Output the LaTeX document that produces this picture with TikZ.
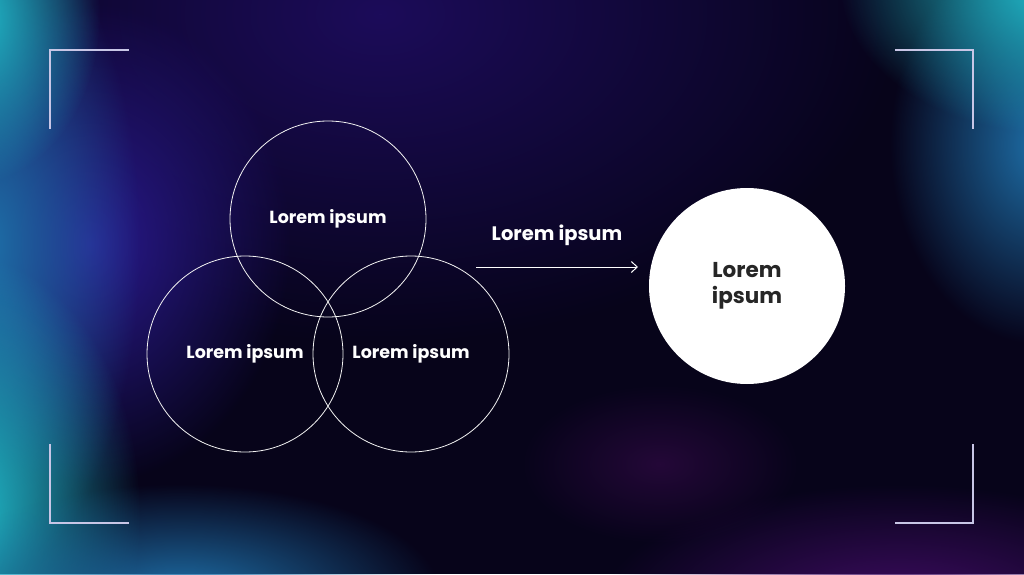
\documentclass[tikz,border=0pt]{standalone}
\usepackage{fontspec}
\setmainfont{Poppins}
\usetikzlibrary{fadings,arrows.meta}
\tikzfading[name=softfade, inner color=transparent!0, outer color=transparent!100]
\definecolor{bgbase}{HTML}{07041A}
\definecolor{indigo}{HTML}{1C0C5A}
\definecolor{cyanglow}{HTML}{22C4D2}
\definecolor{tealblue}{HTML}{1E6FA8}
\definecolor{violetblue}{HTML}{2A1A90}
\definecolor{magglow}{HTML}{3E0C62}
\definecolor{magdim}{HTML}{240838}
\definecolor{bracket}{HTML}{C8C6E6}
\tikzset{
  blob/.style={fill=#1, path fading=softfade},
  ring/.style={circle, draw=white!90!gray, line width=0.8pt, minimum size=196pt, inner sep=0pt, text=white, font=\bfseries\fontsize{17.5}{20}\selectfont},
  bigdot/.style={circle, fill=white, minimum size=196pt, inner sep=0pt, text=black!85, align=center, font=\bfseries\fontsize{21.5}{26}\selectfont},
  brk/.style={draw=bracket, line width=1.1pt},
  lbl/.style={text=white, font=\bfseries\fontsize{19.5}{23}\selectfont}
}
\begin{document}
\begin{tikzpicture}[x=1pt,y=1pt]
\useasboundingbox (0,0) rectangle (1024,574);
\fill[bgbase] (0,0) rectangle (1024,574);
% background glows
\fill[blob=indigo] (380,560) ellipse (520 and 330);
\fill[blob=violetblue] (90,330) ellipse (200 and 240);
\fill[blob=tealblue] (-10,330) ellipse (150 and 330);
\fill[blob=cyanglow] (-40,60) ellipse (180 and 260);
\fill[blob=cyanglow] (-30,560) ellipse (130 and 170);
\fill[blob=tealblue] (180,-20) ellipse (260 and 110);
\fill[blob=tealblue] (1040,430) ellipse (150 and 200);
\fill[blob=cyanglow] (1060,590) ellipse (220 and 150);
\fill[blob=magglow] (900,-30) ellipse (300 and 120);
\fill[blob=magdim] (660,110) ellipse (140 and 80);
% corner brackets
\coordinate (tl) at (50,524); \coordinate (tla) at (129,524); \coordinate (tlb) at (50,445);
\coordinate (tr) at (973,524); \coordinate (tra) at (895,524); \coordinate (trb) at (973,445);
\coordinate (bl) at (50,51); \coordinate (bla) at (129,51); \coordinate (blb) at (50,130);
\coordinate (br) at (973,51); \coordinate (bra) at (895,51); \coordinate (brb) at (973,130);
\draw[brk] (tla) -- (tl) -- (tlb);
\draw[brk] (tra) -- (tr) -- (trb);
\draw[brk] (bla) -- (bl) -- (blb);
\draw[brk] (bra) -- (br) -- (brb);
% venn circles
\node[ring] (top) at (328,355) {Lorem ipsum};
\node[ring] (left) at (245,220) {Lorem ipsum};
\node[ring] (right) at (411,220) {Lorem ipsum};
% result
\node[bigdot] (res) at (747,288) {Lorem\\ipsum};
\coordinate (as) at (476,307);
\coordinate (ae) at (638,307);
\draw[white, line width=1pt, -{Straight Barb[length=6pt,width=11pt]}] (as) -- (ae);
\node[lbl] (arrlbl) at (557,339) {Lorem ipsum};
\end{tikzpicture}
\end{document}
